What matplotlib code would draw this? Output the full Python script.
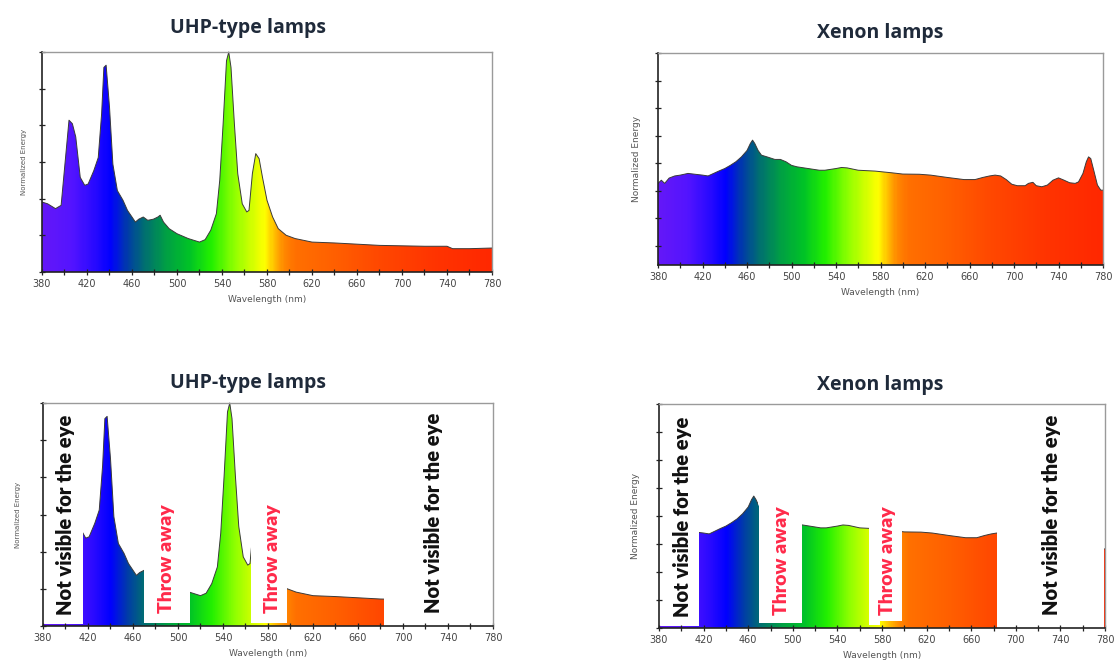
import numpy as np
import matplotlib
matplotlib.use("Agg")
import matplotlib.pyplot as plt
from matplotlib.colors import LinearSegmentedColormap, Normalize
from matplotlib.patches import Polygon, Rectangle

# --- data ---
uhp_wl = [380, 385, 392, 397, 404, 407, 410, 414, 418, 421, 426, 430, 433, 435, 437,
          440, 443, 447, 452, 456, 460, 463, 466, 470, 474, 479, 483, 485, 488, 493,
          500, 510, 520, 525, 530, 535, 538, 541, 544, 546, 548, 551, 554, 558, 562,
          564, 567, 570, 573, 576, 580, 585, 590, 597, 605, 620, 640, 680, 720, 740,
          745, 760, 780]
uhp_en = [0.318, 0.31, 0.288, 0.303, 0.69, 0.674, 0.614, 0.43, 0.394, 0.40, 0.46, 0.52,
          0.72, 0.93, 0.94, 0.75, 0.49, 0.37, 0.326, 0.28, 0.25, 0.227, 0.24, 0.25,
          0.235, 0.24, 0.25, 0.258, 0.227, 0.197, 0.174, 0.152, 0.136, 0.147, 0.19,
          0.265, 0.417, 0.674, 0.96, 1.0, 0.93, 0.674, 0.447, 0.31, 0.273, 0.28,
          0.447, 0.538, 0.515, 0.43, 0.326, 0.25, 0.197, 0.167, 0.152, 0.136, 0.132,
          0.121, 0.117, 0.117, 0.106, 0.106, 0.109]

xe_wl = [380, 383, 386, 390, 395, 400, 407, 415, 420, 425, 430, 435, 440, 445, 450,
         455, 460, 463, 465, 467, 470, 473, 478, 485, 490, 495, 500, 505, 515, 525,
         530, 540, 545, 550, 560, 575, 590, 600, 615, 625, 640, 655, 665, 672, 678,
         683, 688, 693, 698, 703, 710, 713, 717, 720, 725, 730, 735, 740, 745, 750,
         755, 758, 762, 765, 767, 769, 772, 775, 778, 780]
xe_en = [0.385, 0.40, 0.385, 0.41, 0.42, 0.424, 0.432, 0.427, 0.424, 0.42, 0.432,
         0.444, 0.455, 0.47, 0.487, 0.51, 0.54, 0.573, 0.589, 0.573, 0.54, 0.518,
         0.51, 0.498, 0.498, 0.487, 0.47, 0.463, 0.455, 0.447, 0.447, 0.455, 0.46,
         0.458, 0.447, 0.443, 0.435, 0.429, 0.428, 0.424, 0.413, 0.403, 0.403,
         0.413, 0.42, 0.424, 0.42, 0.403, 0.381, 0.374, 0.374, 0.385, 0.39, 0.374,
         0.369, 0.377, 0.40, 0.411, 0.40, 0.388, 0.385, 0.392, 0.432, 0.487, 0.51,
         0.502, 0.44, 0.377, 0.353, 0.353]

# kept wavelength bands (bottom row) and the thin leftover strips
uhp_keep = [(416, 470), (511, 565), (597, 683)]
uhp_rest = [(380, 416, 0.008), (470, 511, 0.012), (565, 597, 0.010)]
xe_keep = [(416, 469), (508, 568), (598, 683), (779, 780)]
xe_rest = [(380, 416, 0.006), (469, 508, 0.019), (568, 578, 0.010), (578, 598, 0.030)]

titles = ["UHP-type lamps", "Xenon lamps"]
note_eye = "Not visible for the eye"
note_throw = "Throw away"
uhp_notes = [400, 490, 584, 727]
xe_notes = [401, 490, 585, 732]

# --- spectrum colormap ---
spec_stops = [(380, '#6418f8'), (405, '#5414ff'), (425, '#2a0aff'), (440, '#0000ff'),
              (455, '#003ca8'), (470, '#006e72'), (490, '#00a044'), (510, '#00c228'),
              (530, '#22f000'), (550, '#8cff00'), (568, '#d8ff00'), (578, '#ffff00'),
              (586, '#ffc000'), (595, '#ff8800'), (605, '#ff7000'), (640, '#ff6000'),
              (680, '#ff4800'), (730, '#ff3400'), (780, '#ff2800')]
spec_cmap = LinearSegmentedColormap.from_list(
    'spec', [((w - 380) / 400, c) for w, c in spec_stops])
norm = Normalize(380, 780)


def gradient(ax, a, b, top, clip=None):
    g = np.linspace(a, b, 300)[None, :]
    im = ax.imshow(g, extent=[a, b, 0, top], aspect='auto', origin='lower',
                   cmap=spec_cmap, norm=norm, zorder=1, interpolation='bilinear')
    if clip is not None:
        im.set_clip_path(clip)
    return im


def spectrum(ax, wl, en, bands=None):
    wl = np.asarray(wl)
    en = np.asarray(en)
    poly = Polygon(np.column_stack([np.r_[wl[0], wl, wl[-1]], np.r_[0, en, 0]]),
                   closed=True, facecolor='none', edgecolor='none')
    ax.add_patch(poly)
    if bands is None:
        bands = [(wl[0], wl[-1])]
    for a, b in bands:
        gradient(ax, a, b, 1.05, clip=poly)
        line, = ax.plot(wl, en, color='#3a3a3a', lw=0.7, zorder=2)
        rect = Rectangle((a, -1), b - a, 3, transform=ax.transData)
        line.set_clip_path(rect)


def style(ax, yticks):
    ax.set_xlim(380, 780)
    ax.set_ylim(0, 1)
    ax.set_xticks(np.arange(380, 781, 40))
    ax.set_xticks(np.arange(380, 781, 20), minor=True)
    ax.set_yticks(yticks)
    ax.set_yticklabels([])
    ax.tick_params(axis='both', which='both', direction='inout', length=4,
                   width=0.9, color='#222')
    ax.tick_params(axis='x', labelsize=7, labelcolor='#444', pad=3)
    for s in ['left', 'bottom']:
        ax.spines[s].set_color('#222')
        ax.spines[s].set_linewidth(1.2)
    for s in ['top', 'right']:
        ax.spines[s].set_color('#9a9a9a')
        ax.spines[s].set_linewidth(1.0)
    ax.set_xlabel("Wavelength (nm)", fontsize=6.5, color='#555', labelpad=4)
    ax.set_zorder(1)


def notes(ax, xs, fs_eye, fs_throw):
    kw = dict(rotation=90, ha='center', va='bottom', fontfamily='Lato',
              fontweight='heavy', zorder=5)
    ax.text(xs[0], 0.05, note_eye, fontsize=fs_eye, color='#111', **kw)
    ax.text(xs[1], 0.06, note_throw, fontsize=fs_throw, color='#ff2a4a', **kw)
    ax.text(xs[2], 0.06, note_throw, fontsize=fs_throw, color='#ff2a4a', **kw)
    ax.text(xs[3], 0.06, note_eye, fontsize=fs_eye, color='#111', **kw)


W, H = 1115, 664
fig = plt.figure(figsize=(W / 100, H / 100), dpi=100)


def px_axes(l, t, r, b):
    return fig.add_axes([l / W, 1 - b / H, (r - l) / W, (b - t) / H])


ax_tl = px_axes(42, 52, 492, 272)
ax_tr = px_axes(658, 53, 1103, 265)
ax_bl = px_axes(43, 403, 493, 626)
ax_br = px_axes(659, 404, 1105, 628)

uhp_ticks = np.linspace(0, 1, 7)
xe_top_ticks = 1 - 0.13 * np.arange(8)
xe_bot_ticks = np.linspace(0, 1, 9)

# top row: full spectra
spectrum(ax_tl, uhp_wl, uhp_en)
style(ax_tl, uhp_ticks)
ax_tl.set_ylabel("Normalized Energy", fontsize=5, color='#555', labelpad=5)

spectrum(ax_tr, xe_wl, xe_en)
style(ax_tr, xe_top_ticks)
ax_tr.set_ylabel("Normalized Energy", fontsize=6.5, color='#555', labelpad=7)

# bottom row: only the useful bands
spectrum(ax_bl, uhp_wl, uhp_en, uhp_keep)
for a, b, h in uhp_rest:
    gradient(ax_bl, a, b, h)
style(ax_bl, uhp_ticks)
ax_bl.set_ylabel("Normalized Energy", fontsize=5, color='#555', labelpad=10)
notes(ax_bl, uhp_notes, 14.5, 14)

spectrum(ax_br, xe_wl, xe_en, xe_keep)
for a, b, h in xe_rest:
    gradient(ax_br, a, b, h)
style(ax_br, xe_bot_ticks)
ax_br.set_ylabel("Normalized Energy", fontsize=6.5, color='#555', labelpad=8)
notes(ax_br, xe_notes, 14.5, 14)

for ax in [ax_tl, ax_tr, ax_bl, ax_br]:
    ax.set_xlim(380, 780)
    ax.set_ylim(0, 1)

tkw = dict(ha='center', va='center', fontfamily='Open Sans', fontweight='bold',
           fontsize=14, color='#1f2a3a')
fig.text(248 / W, 1 - 28 / H, titles[0], **tkw)
fig.text(880 / W, 1 - 33 / H, titles[1], **tkw)
fig.text(248 / W, 1 - 383 / H, titles[0], **tkw)
fig.text(880 / W, 1 - 385 / H, titles[1], **tkw)

fig.savefig("out.png", dpi=100, facecolor='white')
